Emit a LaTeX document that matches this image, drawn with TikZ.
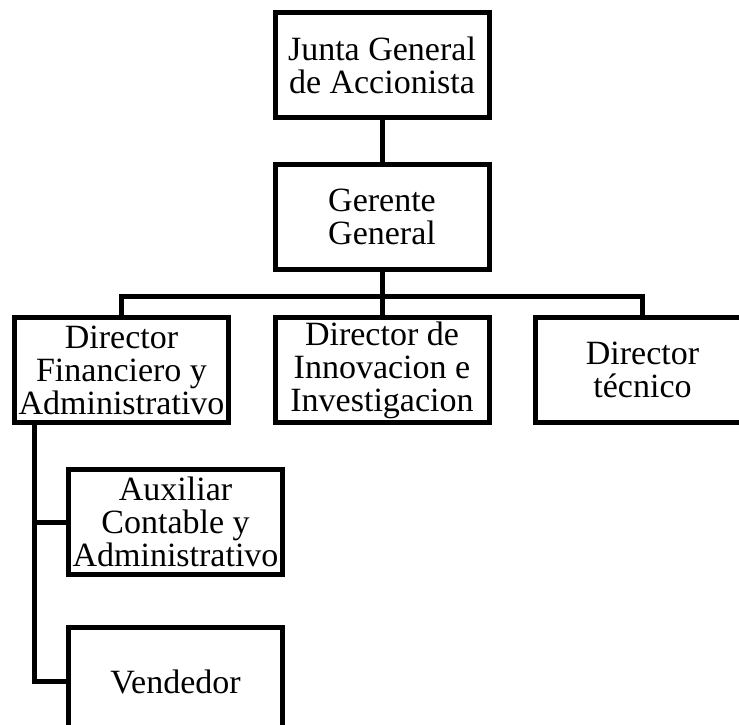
\documentclass[tikz,border=0pt]{standalone}
\usepackage{fontspec}
\setmainfont{Liberation Serif}
\usetikzlibrary{positioning}

\begin{document}
\begin{tikzpicture}[x=1pt,y=-1pt,%
		   cargo/.style={draw,line width=5pt,fill=white,align=center,inner sep=0pt,
		      minimum width=214pt,minimum height=105pt,
		      font=\fontsize{34pt}{33pt}\selectfont},
		   link/.style={draw,line width=5pt}]

	\useasboundingbox (0,0) rectangle (739,724);
	\clip (0,0) rectangle (739,724);

	% cajas del organigrama
	\foreach \name/\pos/\desc in {%
	   junta/{382,65}/{Junta General\\de Accionista},%
	   gerente/{382,217}/{Gerente\\General},%
	   dirfin/{121.5,370}/{Director\\Financiero y\\Administrativo},%
	   dirinn/{382,370}/{Director de\\Innovacion e\\Investigacion},%
	   dirtec/{642.5,370}/{Director\\t\'ecnico},%
	   auxiliar/{175.5,522}/{Auxiliar\\Contable y\\Administrativo}%
	   } { \node[cargo] (\name) at (\pos) {\desc}; }
	\node[cargo,minimum height=108pt,below=48pt of auxiliar] (vendedor) {Vendedor};

	% conexiones
	\coordinate (bus) at (382,296);
	\coordinate (spine) at ([xshift=22pt]dirfin.south west);
	\draw[link] (junta) -- (gerente);
	\draw[link] (gerente) -- (bus);
	\draw[link] (bus) -| (dirfin);
	\draw[link] (bus) -| (dirtec);
	\draw[link] (bus) -- (dirinn);
	\draw[link] (spine) |- (auxiliar);
	\draw[link] (spine) |- (vendedor);
\end{tikzpicture}
\end{document}
